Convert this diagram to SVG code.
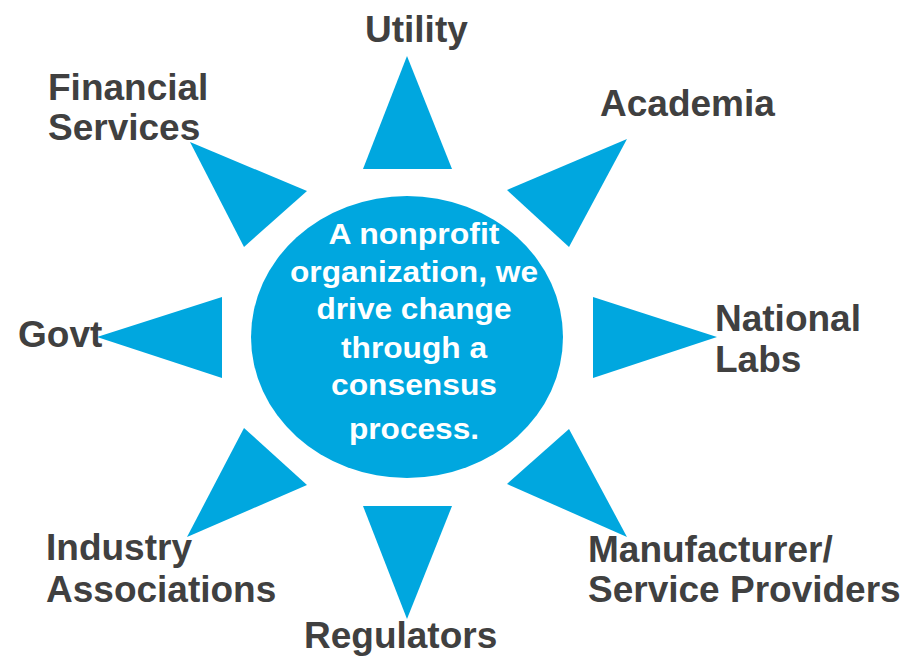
<svg xmlns="http://www.w3.org/2000/svg" width="904" height="656" viewBox="0 0 904 656">
<style>
.tri{fill:#00A7DF}
.lbl{font-family:"Liberation Sans",Arial,sans-serif;font-weight:bold;font-size:37px;fill:#404040}
.ctr{font-family:"Liberation Sans",Arial,sans-serif;font-weight:bold;font-size:29px;fill:#FFFFFF;text-anchor:middle}
</style>
<rect width="904" height="656" fill="#FFFFFF"/>
<g id="connectors">
<polygon class="tri" points="407,56 363,169 452,169"/>
<polygon class="tri" points="627,139 507,190 569,247"/>
<polygon class="tri" points="717,337 593,297 593,378"/>
<polygon class="tri" points="627,537 569,429 507,484"/>
<polygon class="tri" points="407,619 363,506 452,506"/>
<polygon class="tri" points="187,537 244,428 307,485"/>
<polygon class="tri" points="97,337 222,297 222,378"/>
<polygon class="tri" points="190,142 307,191 244,247"/>
</g>
<g id="center">
<ellipse cx="407" cy="337" rx="156" ry="141" fill="#00A7DF"/>
<text class="ctr" x="414" y="244" textLength="171" lengthAdjust="spacingAndGlyphs">A nonprofit</text>
<text class="ctr" x="414" y="282" textLength="248" lengthAdjust="spacingAndGlyphs">organization, we</text>
<text class="ctr" x="414" y="319" textLength="195" lengthAdjust="spacingAndGlyphs">drive change</text>
<text class="ctr" x="414" y="358" textLength="146" lengthAdjust="spacingAndGlyphs">through a</text>
<text class="ctr" x="414" y="395" textLength="166" lengthAdjust="spacingAndGlyphs">consensus</text>
<text class="ctr" x="414" y="439" textLength="130" lengthAdjust="spacingAndGlyphs">process.</text>
</g>
<g id="utility"><text class="lbl" x="365" y="42">Utility</text></g>
<g id="academia"><text class="lbl" x="600" y="116">Academia</text></g>
<g id="national-labs"><text class="lbl" x="715" y="331">National</text><text class="lbl" x="715" y="372">Labs</text></g>
<g id="manufacturer"><text class="lbl" x="588" y="562">Manufacturer/</text><text class="lbl" x="588" y="602">Service Providers</text></g>
<g id="regulators"><text class="lbl" x="304" y="648">Regulators</text></g>
<g id="industry"><text class="lbl" x="46" y="560">Industry</text><text class="lbl" x="46" y="602">Associations</text></g>
<g id="govt"><text class="lbl" x="18" y="347">Govt</text></g>
<g id="financial"><text class="lbl" x="48" y="100">Financial</text><text class="lbl" x="48" y="140">Services</text></g>
</svg>
